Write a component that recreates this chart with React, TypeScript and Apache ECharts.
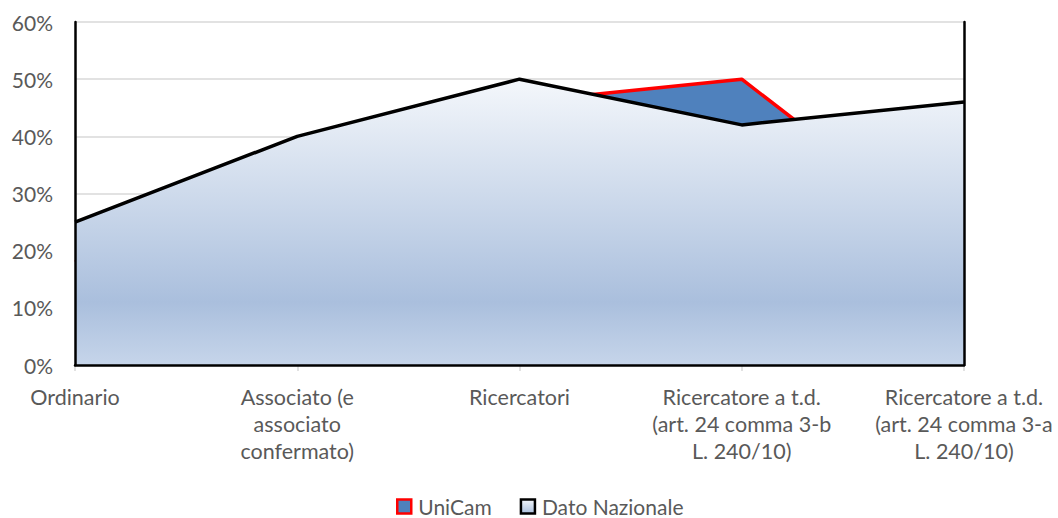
import React, { useEffect, useRef } from "react";
import * as echarts from "echarts";

const categories = [
  "Ordinario",
  "Associato (e\nassociato\nconfermato)",
  "Ricercatori",
  "Ricercatore a t.d.\n(art. 24 comma 3-b\nL. 240/10)",
  "Ricercatore a t.d.\n(art. 24 comma 3-a\nL. 240/10)",
];
const unicamValues = [0.18, 0.33, 0.46, 0.5, 0.2];
const nazionaleValues = [0.25, 0.4, 0.5, 0.42, 0.46];
const seriesNames = ["UniCam", "Dato Nazionale"];
const yMin = 0;
const yMax = 0.6;
const yStep = 0.1;

const FONT = "Lato, 'Open Sans', sans-serif";
const TEXT = "#595959";

export default function App() {
  const ref = useRef<HTMLDivElement>(null);
  useEffect(() => {
    if (!ref.current) return;
    const chart = echarts.init(ref.current, null, { renderer: "svg" });
    const gradient = new echarts.graphic.LinearGradient(0, 0, 0, 1, [
      { offset: 0, color: "#f4f7fb" },
      { offset: 0.78, color: "#aabfdd" },
      { offset: 1, color: "#c6d5ea" },
    ]);
    const legendGradient = new echarts.graphic.LinearGradient(0, 0, 0, 1, [
      { offset: 0, color: "#f4f7fb" },
      { offset: 1, color: "#aabfdd" },
    ]);
    const blackLine = (position: string) => ({
      type: "value",
      min: yMin,
      max: yMax,
      interval: yStep,
      position,
      z: 4,
      axisLine: { show: true, lineStyle: { color: "#000", width: 2.5 } },
      axisTick: { show: false },
      axisLabel: { show: false },
      splitLine: { show: false },
    });
    chart.setOption({
      animation: false,
      textStyle: { fontFamily: FONT },
      grid: { left: 75, right: 94, top: 22, bottom: 153, containLabel: false },
      legend: {
        top: 496,
        left: 394,
        padding: [0, 2, 0, 2],
        itemWidth: 14,
        itemHeight: 14,
        itemGap: 28,
        textStyle: { color: TEXT, fontSize: 21, fontFamily: FONT, padding: [0, 0, 0, 2] },
        data: [
          {
            name: seriesNames[0],
            icon: "rect",
            itemStyle: { color: "#4f81bd", borderColor: "#ff0000", borderWidth: 2.5 },
          },
          {
            name: seriesNames[1],
            icon: "rect",
            itemStyle: { color: legendGradient, borderColor: "#000", borderWidth: 2.5 },
          },
        ],
      },
      xAxis: [
        {
          type: "category",
          data: categories,
          boundaryGap: false,
          z: 1,
          axisLine: { show: true, lineStyle: { color: "#a6a6a6", width: 2 } },
          axisTick: { show: true, length: 6, lineStyle: { color: "#d9d9d9", width: 1.5 } },
          axisLabel: {
            color: TEXT,
            fontSize: 21.5,
            lineHeight: 27,
            margin: 18,
            interval: 0,
            fontFamily: FONT,
          },
          splitLine: { show: false },
        },
        {
          type: "category",
          data: categories,
          boundaryGap: false,
          position: "top",
          z: 4,
          axisLine: { show: true, lineStyle: { color: "#000", width: 2.5 } },
          axisTick: { show: false },
          axisLabel: { show: false },
          splitLine: { show: false },
        },
      ],
      yAxis: [
        {
          type: "value",
          min: yMin,
          max: yMax,
          interval: yStep,
          position: "left",
          z: 0,
          axisLine: { show: false },
          axisTick: { show: false },
          axisLabel: {
            color: TEXT,
            fontSize: 21,
            margin: 22,
            fontFamily: FONT,
            formatter: (v: number) => `${Math.round(v * 100)}%`,
          },
          splitLine: { show: true, lineStyle: { color: "#d9d9d9", width: 1.5 } },
        },
        blackLine("right"),
        { ...blackLine("left"), offset: 0 },
      ],
      series: [
        {
          name: seriesNames[0],
          type: "line",
          data: unicamValues,
          symbol: "none",
          z: 2,
          lineStyle: { color: "#ff0000", width: 3.5 },
          itemStyle: { color: "#4f81bd", borderColor: "#ff0000" },
          areaStyle: { color: "#4f81bd", opacity: 1 },
        },
        {
          name: seriesNames[1],
          type: "line",
          data: nazionaleValues,
          symbol: "none",
          z: 3,
          lineStyle: { color: "#000", width: 3.5 },
          itemStyle: { color: "#c6d5ea", borderColor: "#000" },
          areaStyle: { color: gradient, opacity: 1 },
        },
      ],
    });
    return () => chart.dispose();
  }, []);
  return (
    <div
      ref={ref}
      style={{ position: "fixed", left: 0, top: 0, width: 1058, height: 518, background: "#fff" }}
    />
  );
}
